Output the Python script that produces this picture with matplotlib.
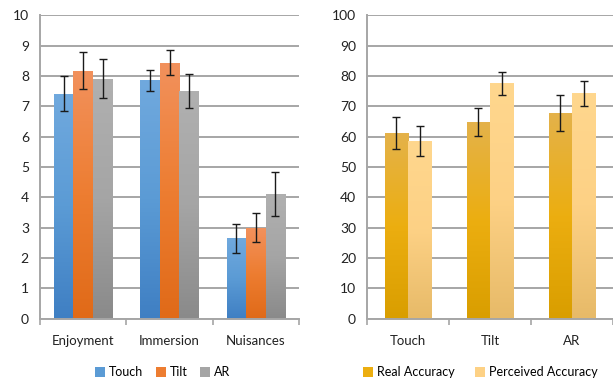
import numpy as np
import matplotlib
matplotlib.use("Agg")
import matplotlib.pyplot as plt
from matplotlib.colors import LinearSegmentedColormap
from matplotlib.patches import Patch

plt.rcParams['font.family'] = ['Lato', 'DejaVu Sans']

# --- data: left chart (ratings) ---
rating_cats = ["Enjoyment", "Immersion", "Nuisances"]
rating_series = ["Touch", "Tilt", "AR"]
touch_vals = [7.42, 7.85, 2.65]
touch_err = [0.57, 0.34, 0.48]
tilt_vals = [8.17, 8.44, 3.0]
tilt_err = [0.61, 0.41, 0.47]
ar_vals = [7.91, 7.51, 4.1]
ar_err = [0.65, 0.56, 0.72]

# --- data: right chart (accuracy) ---
acc_cats = ["Touch", "Tilt", "AR"]
acc_series = ["Real Accuracy", "Perceived Accuracy"]
real_vals = [61.1, 64.8, 67.7]
real_err = [5.3, 4.5, 5.9]
perc_vals = [58.5, 77.6, 74.3]
perc_err = [5.0, 3.8, 4.1]

# gradient stops (top -> bottom)
grads = {
    "Touch": ["#70A9DE", "#5B9BD5", "#3F7FC3"],
    "Tilt": ["#F2915C", "#ED7D31", "#E06A18"],
    "AR": ["#B0B0B0", "#A5A5A5", "#8A8A8A"],
    "Real Accuracy": ["#E4B24A", "#ECAE10", "#D99E00"],
    "Perceived Accuracy": ["#FFD78E", "#FDD185", "#E7BA68"],
}

GRID = "#A6A6A6"


def gradient_bars(ax, bars, colors):
    cmap = LinearSegmentedColormap.from_list("g", colors[::-1])
    grad = np.linspace(0, 1, 128).reshape(-1, 1)
    for r in bars:
        x, y = r.get_x(), r.get_y()
        w, h = r.get_width(), r.get_height()
        r.set_facecolor("none")
        r.set_edgecolor("none")
        im = ax.imshow(grad, cmap=cmap, extent=[x, x + w, y, y + h], origin="lower",
                       aspect="auto", zorder=2, interpolation="bilinear")
        im.set_clip_path(r)


def style_axes(ax, ymax, step, cats):
    ax.set_xlim(-0.5, 2.5)
    ax.set_ylim(0, ymax)
    ax.set_yticks(np.arange(0, ymax + 0.001, step))
    ax.yaxis.grid(True, color=GRID, linewidth=1.4, zorder=0)
    ax.set_axisbelow(True)
    ax.set_xticks(range(len(cats)))
    ax.set_xticklabels(cats, fontsize=9.5, color="#222222")
    ax.tick_params(axis="x", which="major", length=0, pad=12)
    ax.set_xticks([-0.5, 0.5, 1.5, 2.5], minor=True)
    ax.tick_params(axis="x", which="minor", length=4, color=GRID, width=1.2)
    ax.tick_params(axis="y", length=0, labelsize=10, labelcolor="#222222", pad=8)
    for s in ["top", "right"]:
        ax.spines[s].set_visible(False)
    for s in ["left", "bottom"]:
        ax.spines[s].set_color(GRID)
        ax.spines[s].set_linewidth(1.4)


fig = plt.figure(figsize=(6.13, 3.79), dpi=100)
ax1 = fig.add_axes([0.0653, 0.1596, 0.4225, 0.8])
ax2 = fig.add_axes([0.599, 0.1596, 0.401, 0.8])

# left chart
x = np.arange(len(rating_cats))
bw = 0.225
for i, (name, vals, err) in enumerate(zip(rating_series,
                                          [touch_vals, tilt_vals, ar_vals],
                                          [touch_err, tilt_err, ar_err])):
    pos = x + (i - 1) * bw
    bars = ax1.bar(pos, vals, width=bw, zorder=2)
    gradient_bars(ax1, bars, grads[name])
    ax1.errorbar(pos, vals, yerr=err, fmt="none", ecolor="#1a1a1a",
                 elinewidth=1, capsize=3, capthick=1, zorder=3)
style_axes(ax1, 10, 1, rating_cats)
h1 = [Patch(facecolor=grads[n][1]) for n in rating_series]
ax1.legend(h1, rating_series, loc="center", bbox_to_anchor=(0.473, -0.177), ncol=3,
           frameon=False, fontsize=9, handlelength=0.8, handleheight=0.8,
           handletextpad=0.3, columnspacing=1.0)

# right chart
x = np.arange(len(acc_cats))
bw = 0.285
for i, (name, vals, err) in enumerate(zip(acc_series, [real_vals, perc_vals],
                                          [real_err, perc_err])):
    pos = x + (i - 0.5) * bw
    bars = ax2.bar(pos, vals, width=bw, zorder=2)
    gradient_bars(ax2, bars, grads[name])
    ax2.errorbar(pos, vals, yerr=err, fmt="none", ecolor="#1a1a1a",
                 elinewidth=1, capsize=3, capthick=1, zorder=3)
style_axes(ax2, 100, 10, acc_cats)
h2 = [Patch(facecolor=grads[n][1]) for n in acc_series]
ax2.legend(h2, acc_series, loc="center", bbox_to_anchor=(0.46, -0.177), ncol=2,
           frameon=False, fontsize=9, handlelength=0.8, handleheight=0.8,
           handletextpad=0.3, columnspacing=1.6)

fig.savefig("out.png", dpi=100)
